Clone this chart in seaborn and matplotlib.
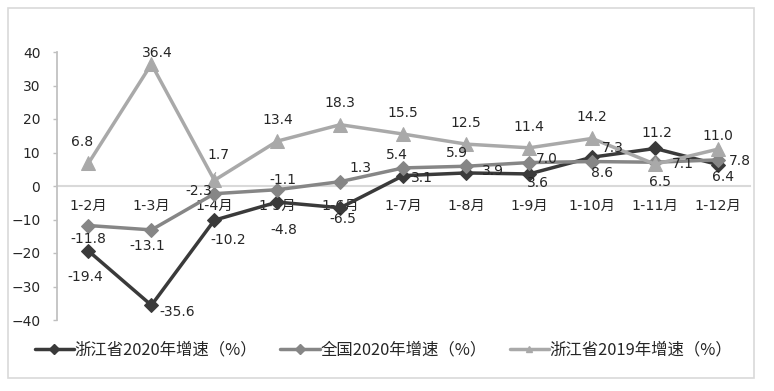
import pandas as pd
import seaborn as sns
import matplotlib.pyplot as plt
from matplotlib.lines import Line2D
from matplotlib.patches import Rectangle

months = ['1-2月', '1-3月', '1-4月', '1-5月', '1-6月', '1-7月',
          '1-8月', '1-9月', '1-10月', '1-11月', '1-12月']
zj_2020 = [-19.4, -35.6, -10.2, -4.8, -6.5, 3.1, 3.9, 3.6, 8.6, 11.2, 6.4]
cn_2020 = [-11.8, -13.1, -2.3, -1.1, 1.3, 5.4, 5.9, 7.0, 7.3, 7.1, 7.8]
zj_2019 = [6.8, 36.4, 1.7, 13.4, 18.3, 15.5, 12.5, 11.4, 14.2, 6.5, 11.0]
names = ['浙江省2020年增速（%）', '全国2020年增速（%）', '浙江省2019年增速（%）']

# label offsets in pixels (dx right, dy down), excel-ish placement
off_zj20 = [(-3, 26), (26, 7), (14, 20), (6, 28), (3, 11), (19, 2),
            (27, -2), (9, 9), (10, 16), (2, -15), (5, 12)]
off_cn20 = [(0, 13), (-4, 16), (-16, -3), (6, -10), (20, -14), (-6, -13),
            (-9, -13), (18, -4), (21, -14), (28, 2), (22, 1)]
off_zj19 = [(-6, -21), (6, -11), (4, -25), (0, -21), (0, -22), (0, -21),
            (0, -21), (0, -21), (0, -21), (5, 18), (0, -13)]

sns.set_theme(style='white')
plt.rcParams['font.family'] = ['DejaVu Sans', 'Noto Sans CJK SC']

fig = plt.figure(figsize=(7.74, 3.91), dpi=100)
ax = fig.add_axes([57 / 774, 1 - 320 / 391, (749.5 - 57) / 774, 268 / 391])

series = [
    (zj_2020, '#3a3a3a', 'D', 7, off_zj20),
    (cn_2020, '#868686', 'D', 7, off_cn20),
    (zj_2019, '#a9a9a9', '^', 10, off_zj19),
]

for k, (vals, col, mk, ms, offs) in enumerate(series):
    df = pd.DataFrame({'month': months, 'val': vals})
    sns.lineplot(data=df, x='month', y='val', ax=ax, sort=False, color=col,
                 marker=mk, markersize=ms, markeredgecolor=col, linewidth=2.5,
                 zorder=3 + k)
    for i, v in enumerate(vals):
        dx, dy = offs[i]
        kw = {}
        if k == 2 and i == 2:
            kw['arrowprops'] = dict(arrowstyle='-', color=col, lw=0.8,
                                    shrinkA=5, shrinkB=5)
        ax.annotate(f'{v:.1f}', (i, v), xytext=(dx, -dy),
                    textcoords='offset pixels', ha='center', va='center',
                    fontsize=10, color='#262626', zorder=10, **kw)

ax.set_ylim(-40, 40)
ax.set_xlim(-0.5, len(months) - 0.5)
ax.set_yticks(range(-40, 41, 10))
ax.set_xticks(range(len(months)))
ax.set_xticklabels(months)
ax.set_xlabel('')
ax.set_ylabel('')

for s in ['top', 'right']:
    ax.spines[s].set_visible(False)
ax.spines['left'].set_color('#bfbfbf')
ax.spines['bottom'].set_position(('data', 0))
ax.spines['bottom'].set_color('#d9d9d9')
ax.spines['bottom'].set_linewidth(1.5)
ax.spines['bottom'].set_zorder(1)

ax.tick_params(axis='y', direction='out', length=3, width=1, color='#bfbfbf',
               pad=9, labelsize=10, labelcolor='#262626', left=True)
ax.tick_params(axis='x', length=0, pad=9, labelsize=10.3, labelcolor='#262626')

handles = [Line2D([], [], color=c, marker=m, markersize=5, markeredgecolor=c,
                  linewidth=2.5) for _, c, m, _, _ in series]
fig.legend(handles, names, loc='center', bbox_to_anchor=(383.5 / 774, 1 - 350 / 391),
           ncol=3, frameon=False, handlelength=2.4, handletextpad=0.05,
           columnspacing=1.4,
           prop={'family': ['Noto Sans CJK SC', 'DejaVu Sans'], 'size': 11.8})

fig.patches.append(Rectangle((8 / 774, 1 - 378 / 391), (754 - 8) / 774, (378 - 8) / 391,
                             transform=fig.transFigure, fill=False,
                             edgecolor='#d9d9d9', linewidth=1.2))

fig.savefig('out.png', dpi=100)
